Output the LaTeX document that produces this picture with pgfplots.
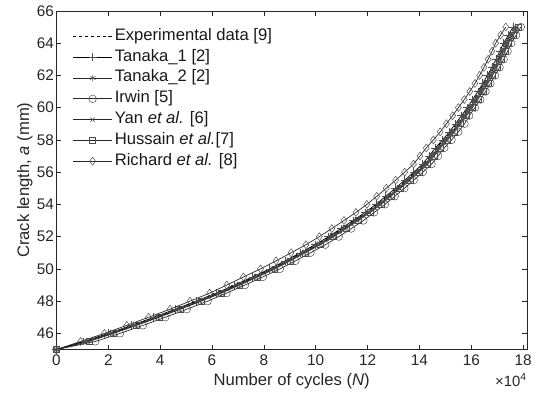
\documentclass[border=0pt]{standalone}
\usepackage{pgfplots}
\usepackage{pgfplotstable}
\pgfplotsset{compat=1.18}
\usepackage{fontspec}
\setmainfont{Liberation Sans}

\pgfplotstableread{
a exp t1 t2 irw yan hus ric
45.0 0 0 0 0 0 0 0
45.5 1.05 1.05 1.15 1.50 1.20 1.25 0.93
46.0 2.05 2.00 2.10 2.45 2.15 2.20 1.85
46.5 2.94 2.89 2.99 3.34 3.04 3.09 2.71
47.0 3.80 3.75 3.85 4.20 3.90 3.95 3.55
47.5 4.63 4.58 4.68 5.03 4.73 4.78 4.38
48.0 5.43 5.38 5.48 5.83 5.53 5.58 5.15
48.5 6.21 6.16 6.26 6.56 6.31 6.36 5.91
49.0 6.92 6.87 6.97 7.27 7.02 7.07 6.57
49.5 7.61 7.56 7.66 7.96 7.71 7.76 7.21
50.0 8.27 8.22 8.32 8.62 8.37 8.42 7.87
50.5 8.87 8.82 8.92 9.22 8.97 9.02 8.47
51.0 9.45 9.40 9.50 9.80 9.55 9.60 9.05
51.5 10.02 9.97 10.07 10.37 10.12 10.17 9.62
52.0 10.54 10.49 10.59 10.89 10.64 10.69 10.14
52.5 11.02 10.97 11.07 11.37 11.12 11.17 10.62
53.0 11.49 11.44 11.54 11.84 11.59 11.64 11.09
53.5 11.95 11.90 12.00 12.25 12.05 12.10 11.55
54.0 12.37 12.32 12.42 12.67 12.47 12.52 11.97
54.5 12.75 12.70 12.80 13.05 12.85 12.90 12.35
55.0 13.12 13.07 13.17 13.42 13.22 13.27 12.72
55.5 13.48 13.43 13.53 13.78 13.58 13.63 13.08
56.0 13.83 13.78 13.88 14.13 13.93 13.98 13.43
56.5 14.17 14.12 14.22 14.47 14.27 14.32 13.77
57.0 14.42 14.37 14.47 14.72 14.52 14.57 14.02
57.5 14.66 14.61 14.71 14.96 14.76 14.81 14.26
58.0 14.94 14.89 14.99 15.24 15.04 15.09 14.54
58.5 15.20 15.15 15.25 15.50 15.30 15.35 14.80
59.0 15.44 15.39 15.49 15.74 15.54 15.59 15.04
59.5 15.67 15.62 15.72 15.92 15.77 15.82 15.28
60.0 15.89 15.84 15.94 16.14 15.99 16.04 15.50
60.5 16.10 16.05 16.15 16.35 16.20 16.25 15.73
61.0 16.30 16.25 16.35 16.55 16.40 16.45 15.94
61.5 16.49 16.44 16.54 16.74 16.59 16.64 16.14
62.0 16.67 16.62 16.72 16.92 16.77 16.82 16.32
62.5 16.84 16.79 16.89 17.09 16.94 16.99 16.49
63.0 17.00 16.95 17.05 17.25 17.10 17.15 16.65
63.5 17.15 17.10 17.20 17.40 17.25 17.30 16.80
64.0 17.29 17.24 17.34 17.54 17.39 17.44 16.94
64.5 17.48 17.43 17.53 17.73 17.58 17.63 17.13
65.0 17.66 17.61 17.71 17.91 17.76 17.81 17.33
}\data

\definecolor{axgray}{gray}{0.15}
\definecolor{mkgray}{gray}{0.3}

\begin{document}
\begin{tikzpicture}
\begin{axis}[
  scale only axis,
  width=475pt, height=342pt,
  xmin=0, xmax=18.14, ymin=45, ymax=66,
  xtick={0,2,...,18}, ytick={46,48,...,66},
  tick align=inside, major tick length=5pt,
  xtick pos=both, ytick pos=both,
  axis line style={axgray, line width=0.5pt},
  every tick/.style={axgray, line width=0.5pt},
  tick label style={font=\fontsize{15.5}{18}\selectfont, text=axgray},
  /pgf/number format/assume math mode=true,
  xticklabel style={yshift=-2pt},
  yticklabel style={xshift=1pt},
  clip=false,
  every axis x label/.style={at={(axis description cs:0.5,-0.105)}, anchor=base, font=\fontsize{16.8}{20}\selectfont, text=axgray},
  every axis y label/.style={at={(axis description cs:-0.0579,0.5)}, rotate=90, anchor=base, font=\fontsize{16.8}{20}\selectfont, text=axgray},
  xlabel={Number of cycles (\textit{N})},
  ylabel={Crack length, \textit{a} (mm)},
  legend cell align=left,
  legend image code/.code={\draw[mark repeat=2,mark phase=2,#1] plot coordinates {(0pt,0pt)(20pt,0pt)(40pt,0pt)};},
  legend style={at={(axis description cs:0,1)}, anchor=north west, xshift=16pt, yshift=-17.6pt,
    draw=none, fill=none, inner xsep=0pt, inner ysep=0pt, row sep=5pt,
    font=\fontsize{16.8}{20}\selectfont, text=black!90,
    nodes={inner xsep=2pt, inner ysep=0pt, text height=12pt, text depth=4pt}},
]
\addplot[black, line width=0.7pt, dash pattern=on 3.5pt off 2.5pt] table[x=exp, y=a] {\data};
\addlegendentry{Experimental data [9]}
\addplot[black, line width=0.7pt, mark=+, mark size=4pt, mark options={solid, mkgray, line width=0.5pt}] table[x=t1, y=a] {\data};
\addlegendentry{Tanaka\_1 [2]}
\addplot[black!85, line width=0.7pt, mark=asterisk, mark size=3.3pt, mark options={solid, mkgray, line width=0.5pt}] table[x=t2, y=a] {\data};
\addlegendentry{Tanaka\_2 [2]}
\addplot[black!85, line width=0.7pt, mark=o, mark size=3.8pt, mark options={solid, mkgray, line width=0.5pt}] table[x=irw, y=a] {\data};
\addlegendentry{Irwin [5]}
\addplot[black!85, line width=0.7pt, mark=x, mark size=3pt, mark options={solid, mkgray, line width=0.5pt}] table[x=yan, y=a] {\data};
\addlegendentry{Yan \textit{et al.} [6]}
\addplot[black!85, line width=0.7pt, mark=square, mark size=3pt, mark options={solid, mkgray, line width=0.5pt}] table[x=hus, y=a] {\data};
\addlegendentry{Hussain \textit{et al.}[7]}
\addplot[black!85, line width=0.7pt, mark=diamond, mark size=4pt, mark options={solid, mkgray, line width=0.5pt}] table[x=ric, y=a] {\data};
\addlegendentry{Richard \textit{et al.} [8]}
\node[anchor=base east, inner sep=0pt, font=\fontsize{15}{18}\selectfont, text=axgray] at (axis description cs:1,-0.108) {×10\textsuperscript{4}};
\end{axis}
\path ([xshift=-57pt,yshift=-48pt]current axis.south west) ([xshift=3pt,yshift=11pt]current axis.north east);
\end{tikzpicture}
\end{document}
